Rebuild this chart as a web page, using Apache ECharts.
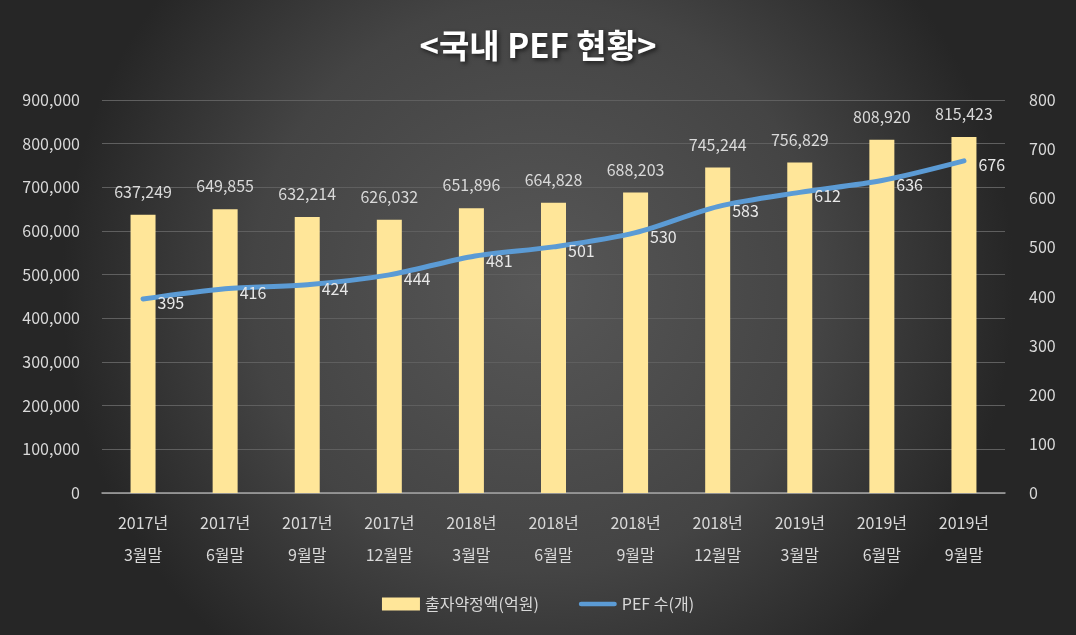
<!DOCTYPE html>
<html><head><meta charset="utf-8">
<script src="https://cdn.jsdelivr.net/npm/echarts@6/dist/echarts.min.js"></script>
<style>html,body{margin:0;padding:0;background:#333;}#c{width:1076px;height:635px;}</style>
</head><body><div id="c"></div>
<script>
const categories = ['2017년\n3월말','2017년\n6월말','2017년\n9월말','2017년\n12월말','2018년\n3월말','2018년\n6월말','2018년\n9월말','2018년\n12월말','2019년\n3월말','2019년\n6월말','2019년\n9월말'];
const commitment = [637249,649855,632214,626032,651896,664828,688203,745244,756829,808920,815423];
const pefCount = [395,416,424,444,481,501,530,583,612,636,676];
const FONT = '"Noto Sans CJK KR", "Noto Sans", sans-serif';
const chart = echarts.init(document.getElementById('c'));
chart.setOption({
  backgroundColor: {type:'radial', x:0.5, y:0.45, r:0.75, colorStops:[{offset:0,color:'#575757'},{offset:0.6,color:'#444444'},{offset:1,color:'#262626'}]},
  textStyle:{fontFamily:FONT},
  title:{text:'<국내 PEF 현황>', left:'center', top:24, textStyle:{color:'#ffffff', fontSize:33, fontWeight:'bold', fontFamily:FONT, textShadowColor:'rgba(0,0,0,0.6)', textShadowBlur:4, textShadowOffsetX:2, textShadowOffsetY:2}},
  grid:{left:102, right:71, top:100, bottom:142, containLabel:false},
  legend:{bottom:18, left:'center', itemGap:40, itemWidth:38, itemHeight:13, textStyle:{color:'#d9d9d9', fontSize:16, fontFamily:FONT},
    data:[{name:'출자약정액(억원)', icon:'rect'},{name:'PEF 수(개)', icon:'path://M2,0 L38,0 A2.5,2.5 0 0 1 38,5 L2,5 A2.5,2.5 0 0 1 2,0 Z'}]},
  xAxis:{type:'category', data:categories, axisTick:{show:false}, axisLine:{lineStyle:{color:'#a6a6a6', width:1.5}},
    axisLabel:{color:'#d9d9d9', fontSize:16, lineHeight:32, margin:14, fontFamily:FONT}},
  yAxis:[
    {type:'value', min:0, max:900000, interval:100000, axisLabel:{color:'#d9d9d9', fontSize:16, margin:22, formatter:v=>v.toLocaleString('en-US')},
      splitLine:{lineStyle:{color:'#5f5f5f', width:1.2}}, axisLine:{show:false}, axisTick:{show:false}},
    {type:'value', min:0, max:800, interval:100, axisLabel:{color:'#d9d9d9', fontSize:16, margin:24}, splitLine:{show:false}, axisLine:{show:false}, axisTick:{show:false}}
  ],
  series:[
    {name:'출자약정액(억원)', type:'bar', data:commitment, barWidth:25, itemStyle:{color:'#FFE699'},
      label:{show:true, position:'top', distance:15, color:'#d9d9d9', fontSize:16, formatter:p=>p.value.toLocaleString('en-US')}},
    {name:'PEF 수(개)', type:'line', yAxisIndex:1, data:pefCount, smooth:0.3, showSymbol:true, symbol:'circle', symbolSize:1,
      lineStyle:{color:'#5B9BD5', width:5, cap:'round'}, itemStyle:{color:'#5B9BD5'},
      label:{show:true, position:'right', distance:14, offset:[0,4], color:'#e8e8e8', fontSize:16}}
  ]
});
</script></body></html>
